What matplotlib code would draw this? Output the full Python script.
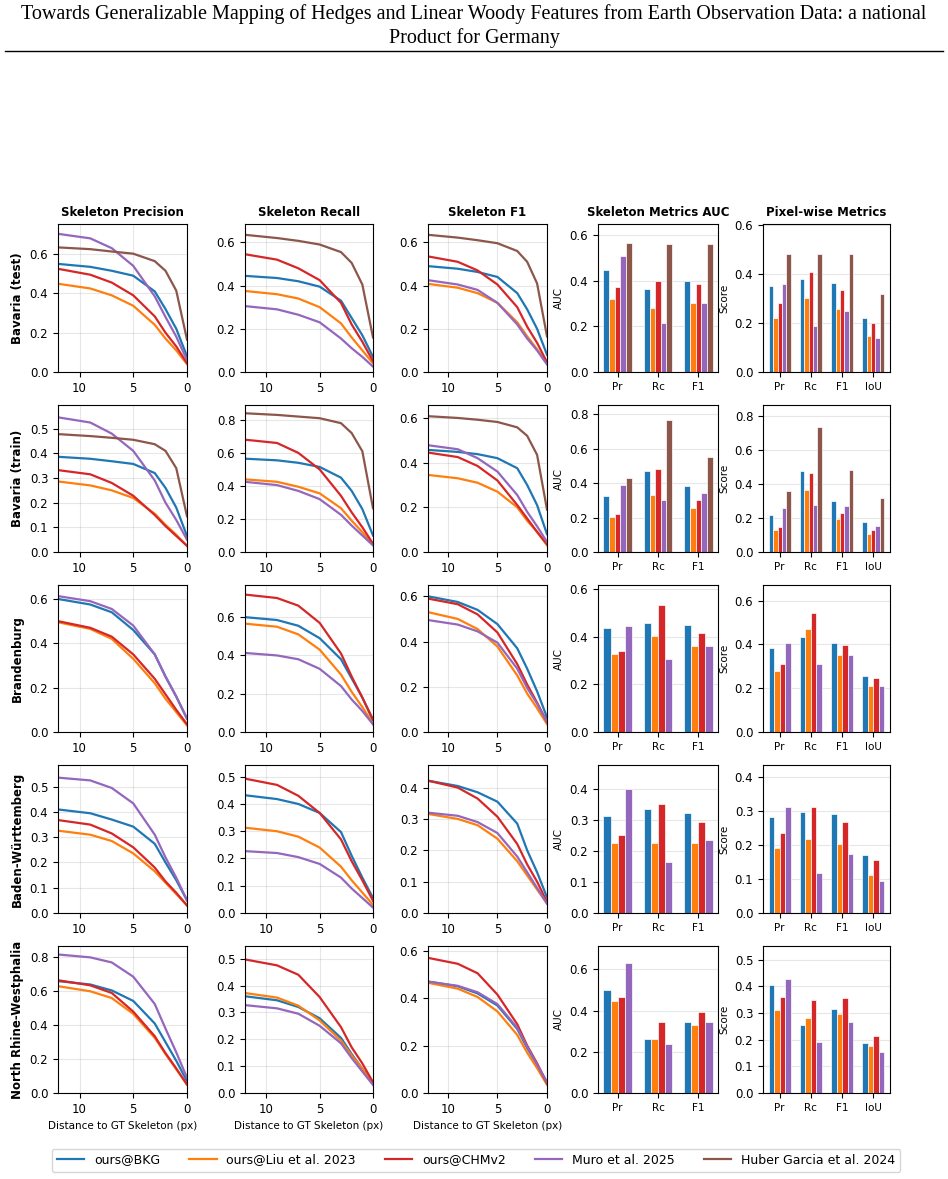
import matplotlib
matplotlib.use("Agg")
import matplotlib.pyplot as plt
from matplotlib.lines import Line2D
from matplotlib.ticker import MaxNLocator, MultipleLocator
import numpy as np

# distance to GT skeleton (px)
DIST = [0, 1, 2, 3, 5, 7, 9, 12]

METHODS = ["ours@BKG", "ours@Liu et al. 2023", "ours@CHMv2", "Muro et al. 2025",
           "Huber Garcia et al. 2024"]
COLORS = ["#1f77b4", "#ff7f0e", "#d62728", "#9467bd", "#8c564b"]
REGIONS = ["Bavaria (test)", "Bavaria (train)", "Brandenburg", "Baden-Württemberg",
           "North Rhine-Westphalia"]
COL_TITLES = ["Skeleton Precision", "Skeleton Recall", "Skeleton F1",
              "Skeleton Metrics AUC", "Pixel-wise Metrics"]
AUC_LABELS = ["Pr", "Rc", "F1"]
PIX_LABELS = ["Pr", "Rc", "F1", "IoU"]

# --- Bavaria (test) ---
BT_PREC = [
    [0.08, 0.22, 0.32, 0.41, 0.49, 0.515, 0.535, 0.55],
    [0.04, 0.11, 0.17, 0.24, 0.337, 0.39, 0.425, 0.449],
    [0.045, 0.13, 0.20, 0.283, 0.39, 0.455, 0.495, 0.525],
    [0.06, 0.18, 0.28, 0.385, 0.54, 0.63, 0.68, 0.703],
    [0.165, 0.414, 0.515, 0.564, 0.602, 0.613, 0.625, 0.634],
]
BT_REC = [
    [0.07, 0.17, 0.25, 0.33, 0.395, 0.42, 0.435, 0.445],
    [0.04, 0.10, 0.16, 0.225, 0.30, 0.34, 0.36, 0.375],
    [0.05, 0.14, 0.22, 0.32, 0.425, 0.48, 0.52, 0.545],
    [0.025, 0.07, 0.11, 0.155, 0.23, 0.265, 0.29, 0.305],
    [0.16, 0.405, 0.505, 0.555, 0.59, 0.607, 0.62, 0.635],
]
BT_F1 = [
    [0.08, 0.20, 0.29, 0.365, 0.44, 0.463, 0.478, 0.49],
    [0.04, 0.105, 0.165, 0.23, 0.32, 0.365, 0.39, 0.408],
    [0.045, 0.135, 0.21, 0.30, 0.405, 0.47, 0.51, 0.535],
    [0.035, 0.10, 0.155, 0.22, 0.32, 0.38, 0.405, 0.425],
    [0.165, 0.41, 0.51, 0.56, 0.596, 0.61, 0.622, 0.635],
]
BT_AUC = [[0.447, 0.362, 0.40], [0.32, 0.28, 0.30], [0.372, 0.40, 0.386],
          [0.507, 0.215, 0.302], [0.563, 0.56, 0.56]]
BT_PIX = [[0.352, 0.38, 0.365, 0.223], [0.223, 0.305, 0.257, 0.147],
          [0.282, 0.408, 0.335, 0.20], [0.36, 0.19, 0.248, 0.14],
          [0.485, 0.485, 0.485, 0.32]]

# --- Bavaria (train) ---
BR_PREC = [
    [0.065, 0.18, 0.26, 0.32, 0.357, 0.368, 0.378, 0.386],
    [0.025, 0.07, 0.11, 0.155, 0.219, 0.25, 0.27, 0.286],
    [0.025, 0.065, 0.105, 0.15, 0.228, 0.28, 0.315, 0.332],
    [0.05, 0.13, 0.20, 0.29, 0.41, 0.48, 0.525, 0.546],
    [0.145, 0.34, 0.41, 0.437, 0.455, 0.463, 0.47, 0.478],
]
BR_REC = [
    [0.10, 0.26, 0.37, 0.45, 0.515, 0.54, 0.555, 0.565],
    [0.045, 0.12, 0.19, 0.265, 0.355, 0.395, 0.425, 0.44],
    [0.05, 0.15, 0.24, 0.34, 0.50, 0.60, 0.66, 0.68],
    [0.04, 0.10, 0.16, 0.225, 0.32, 0.37, 0.405, 0.425],
    [0.265, 0.61, 0.72, 0.78, 0.81, 0.82, 0.83, 0.84],
]
BR_F1 = [
    [0.08, 0.21, 0.30, 0.375, 0.42, 0.438, 0.448, 0.457],
    [0.03, 0.09, 0.14, 0.20, 0.27, 0.31, 0.33, 0.345],
    [0.035, 0.09, 0.15, 0.21, 0.32, 0.385, 0.425, 0.445],
    [0.045, 0.115, 0.18, 0.255, 0.36, 0.42, 0.46, 0.478],
    [0.19, 0.435, 0.52, 0.558, 0.582, 0.592, 0.60, 0.608],
]
BR_AUC = [[0.325, 0.472, 0.385], [0.205, 0.33, 0.255], [0.222, 0.48, 0.305],
          [0.39, 0.30, 0.34], [0.43, 0.765, 0.552]]
BR_PIX = [[0.22, 0.478, 0.30, 0.178], [0.13, 0.365, 0.195, 0.108],
          [0.15, 0.465, 0.228, 0.128], [0.26, 0.275, 0.268, 0.155],
          [0.36, 0.738, 0.485, 0.32]]

# --- Brandenburg ---
BB_PREC = [
    [0.06, 0.16, 0.25, 0.35, 0.46, 0.54, 0.575, 0.60],
    [0.03, 0.09, 0.15, 0.22, 0.33, 0.42, 0.465, 0.495],
    [0.035, 0.10, 0.17, 0.24, 0.35, 0.43, 0.47, 0.50],
    [0.06, 0.16, 0.25, 0.35, 0.48, 0.555, 0.59, 0.613],
]
BB_REC = [
    [0.06, 0.18, 0.28, 0.38, 0.49, 0.555, 0.585, 0.60],
    [0.045, 0.13, 0.21, 0.30, 0.43, 0.51, 0.55, 0.566],
    [0.065, 0.18, 0.29, 0.41, 0.57, 0.66, 0.70, 0.718],
    [0.04, 0.11, 0.17, 0.24, 0.33, 0.38, 0.40, 0.413],
]
BB_F1 = [
    [0.065, 0.18, 0.28, 0.37, 0.477, 0.54, 0.575, 0.60],
    [0.035, 0.105, 0.17, 0.25, 0.378, 0.455, 0.50, 0.53],
    [0.045, 0.13, 0.21, 0.30, 0.44, 0.52, 0.565, 0.59],
    [0.045, 0.125, 0.195, 0.28, 0.395, 0.445, 0.475, 0.495],
]
BB_AUC = [[0.438, 0.458, 0.448], [0.327, 0.405, 0.362], [0.34, 0.535, 0.415],
          [0.447, 0.305, 0.363]]
BB_PIX = [[0.385, 0.435, 0.408, 0.255], [0.28, 0.47, 0.35, 0.21],
          [0.31, 0.545, 0.395, 0.247], [0.405, 0.31, 0.35, 0.21]]

# --- Baden-Württemberg ---
BW_PREC = [
    [0.05, 0.13, 0.20, 0.274, 0.342, 0.37, 0.395, 0.41],
    [0.03, 0.075, 0.12, 0.165, 0.236, 0.285, 0.31, 0.326],
    [0.03, 0.08, 0.125, 0.18, 0.26, 0.315, 0.35, 0.368],
    [0.05, 0.14, 0.22, 0.31, 0.434, 0.495, 0.525, 0.536],
]
BW_REC = [
    [0.055, 0.13, 0.21, 0.297, 0.367, 0.40, 0.418, 0.432],
    [0.03, 0.075, 0.12, 0.17, 0.24, 0.28, 0.30, 0.313],
    [0.045, 0.12, 0.19, 0.27, 0.367, 0.43, 0.47, 0.493],
    [0.02, 0.055, 0.09, 0.13, 0.18, 0.205, 0.22, 0.227],
]
BW_F1 = [
    [0.05, 0.13, 0.20, 0.285, 0.355, 0.385, 0.405, 0.422],
    [0.03, 0.075, 0.12, 0.165, 0.237, 0.28, 0.30, 0.316],
    [0.035, 0.10, 0.155, 0.22, 0.307, 0.365, 0.40, 0.422],
    [0.03, 0.08, 0.13, 0.18, 0.255, 0.29, 0.31, 0.32],
]
BW_AUC = [[0.315, 0.337, 0.325], [0.227, 0.227, 0.227], [0.253, 0.353, 0.295],
          [0.40, 0.166, 0.235]]
BW_PIX = [[0.283, 0.298, 0.29, 0.17], [0.192, 0.218, 0.204, 0.113],
          [0.235, 0.313, 0.268, 0.155], [0.313, 0.118, 0.172, 0.094]]

# --- North Rhine-Westphalia ---
NW_PREC = [
    [0.07, 0.19, 0.30, 0.41, 0.543, 0.605, 0.64, 0.66],
    [0.05, 0.14, 0.23, 0.325, 0.467, 0.56, 0.60, 0.63],
    [0.05, 0.145, 0.235, 0.335, 0.48, 0.59, 0.635, 0.665],
    [0.09, 0.24, 0.38, 0.525, 0.686, 0.77, 0.80, 0.817],
]
NW_REC = [
    [0.035, 0.09, 0.145, 0.205, 0.278, 0.32, 0.345, 0.36],
    [0.035, 0.09, 0.14, 0.195, 0.27, 0.325, 0.355, 0.372],
    [0.04, 0.11, 0.17, 0.245, 0.357, 0.44, 0.475, 0.497],
    [0.03, 0.08, 0.13, 0.185, 0.25, 0.295, 0.315, 0.327],
]
NW_F1 = [
    [0.045, 0.12, 0.19, 0.27, 0.369, 0.42, 0.45, 0.47],
    [0.035, 0.105, 0.17, 0.245, 0.344, 0.405, 0.44, 0.465],
    [0.04, 0.125, 0.20, 0.29, 0.415, 0.505, 0.545, 0.57],
    [0.045, 0.12, 0.195, 0.275, 0.375, 0.425, 0.452, 0.47],
]
NW_AUC = [[0.50, 0.262, 0.345], [0.445, 0.26, 0.33], [0.465, 0.345, 0.395],
          [0.63, 0.238, 0.345]]
NW_PIX = [[0.405, 0.255, 0.315, 0.188], [0.313, 0.283, 0.297, 0.175],
          [0.36, 0.348, 0.355, 0.215], [0.428, 0.192, 0.265, 0.153]]

AUC_YMAX = [0.648, 0.854, 0.618, 0.479, 0.714]
PIX_YMAX = [0.606, 0.865, 0.671, 0.435, 0.552]

ROWS = [
    (BT_PREC, BT_REC, BT_F1, BT_AUC, BT_PIX),
    (BR_PREC, BR_REC, BR_F1, BR_AUC, BR_PIX),
    (BB_PREC, BB_REC, BB_F1, BB_AUC, BB_PIX),
    (BW_PREC, BW_REC, BW_F1, BW_AUC, BW_PIX),
    (NW_PREC, NW_REC, NW_F1, NW_AUC, NW_PIX),
]

W, H = 948, 1179
COL_X = [(58, 187), (245, 373), (428, 547), (598, 718), (763, 890)]
ROW_Y = [(224, 372), (405, 552), (585, 732), (765, 913), (946, 1093)]

plt.rcParams["font.family"] = ["DejaVu Sans"]
fig = plt.figure(figsize=(W / 100, H / 100), dpi=100)

# page header
fig.text(0.5, 1 - 14 / H,
         "Towards Generalizable Mapping of Hedges and Linear Woody Features "
         "from Earth Observation Data: a national",
         ha="center", va="center", family="Liberation Serif", fontsize=14.5)
fig.text(0.5, 1 - 38 / H, "Product for Germany", ha="center", va="center",
         family="Liberation Serif", fontsize=14.5)
fig.add_artist(Line2D([5 / W, 943 / W], [1 - 51 / H] * 2, color="black", lw=1.0))


def make_ax(r, c):
    x0, x1 = COL_X[c]
    y0, y1 = ROW_Y[r]
    return fig.add_axes([x0 / W, 1 - y1 / H, (x1 - x0) / W, (y1 - y0) / H])


def y_locator():
    return MaxNLocator(6, steps=[1, 2, 5, 10])


def line_panel(ax, series):
    for i, vals in enumerate(series):
        ax.plot(DIST, vals, color=COLORS[i], lw=1.6)
    ymax = max(max(v) for v in series) + 0.05
    ax.set_xlim(12, 0)
    ax.set_ylim(0, ymax)
    ax.xaxis.set_major_locator(MultipleLocator(5))
    ax.yaxis.set_major_locator(y_locator())
    ax.grid(True, alpha=0.3)
    ax.tick_params(labelsize=8.5)


def bar_panel(ax, values, labels, ymax, ylabel):
    n = len(values)
    width = 0.7 / n
    x = np.arange(len(labels))
    for i, vals in enumerate(values):
        ax.bar(x + (i - (n - 1) / 2) * width, vals, width, color=COLORS[i],
               edgecolor="white", linewidth=0.5)
    ax.set_xticks(x)
    ax.set_xticklabels(labels, fontsize=7.5)
    ax.set_ylim(0, ymax)
    ax.yaxis.set_major_locator(y_locator())
    ax.tick_params(axis="y", labelsize=8.5)
    ax.set_ylabel(ylabel, fontsize=7.5)
    ax.grid(True, axis="y", alpha=0.3)
    ax.set_axisbelow(True)


for r, (prec, rec, f1, auc, pix) in enumerate(ROWS):
    for c, series in enumerate([prec, rec, f1]):
        ax = make_ax(r, c)
        line_panel(ax, series)
        if r == 0:
            ax.set_title(COL_TITLES[c], fontsize=8.5, fontweight="bold")
        if c == 0:
            ax.set_ylabel(REGIONS[r], fontsize=8.5, fontweight="bold")
        if r == len(ROWS) - 1:
            ax.set_xlabel("Distance to GT Skeleton (px)", fontsize=7.5)
    ax = make_ax(r, 3)
    bar_panel(ax, auc, AUC_LABELS, AUC_YMAX[r], "AUC")
    if r == 0:
        ax.set_title(COL_TITLES[3], fontsize=8.5, fontweight="bold")
    ax = make_ax(r, 4)
    bar_panel(ax, pix, PIX_LABELS, PIX_YMAX[r], "Score")
    if r == 0:
        ax.set_title(COL_TITLES[4], fontsize=8.5, fontweight="bold")

handles = [Line2D([], [], color=col, lw=1.6) for col in COLORS]
fig.legend(handles, METHODS, loc="center", bbox_to_anchor=(476 / W, 1 - 1160 / H),
           ncol=5, fontsize=9, frameon=True, columnspacing=2.3, handlelength=2.2)

fig.savefig("out.png", dpi=100)
